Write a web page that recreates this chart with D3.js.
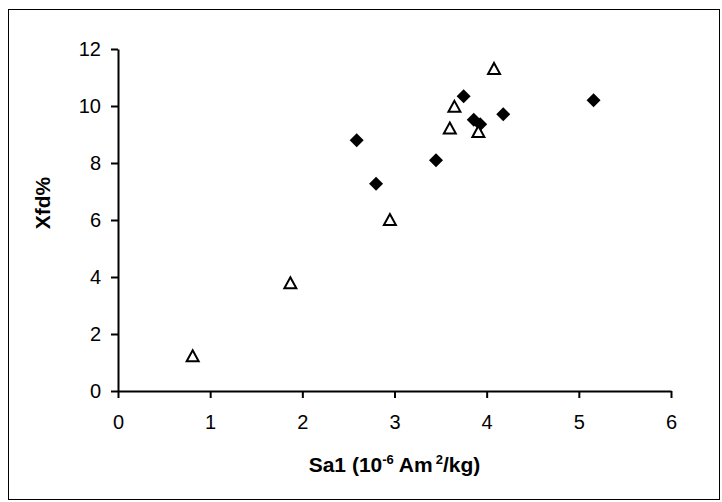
<!DOCTYPE html>
<html>
<head>
<meta charset="utf-8">
<script src="https://cdn.jsdelivr.net/npm/d3@7"></script>
<style>
  html, body { margin: 0; padding: 0; background: #fff; }
  svg { display: block; }
  text { font-family: "Liberation Sans", Arial, sans-serif; fill: #000; }
</style>
</head>
<body>
<svg id="chart" width="722" height="502"></svg>
<script>
// Series 1: filled diamonds
const diamondX = [2.59, 2.80, 3.45, 3.75, 3.86, 3.93, 4.18, 5.16];
const diamondY = [8.80, 7.27, 8.10, 10.34, 9.52, 9.36, 9.71, 10.20];
// Series 2: open triangles
const triangleX = [0.81, 1.87, 2.95, 3.60, 3.65, 3.91, 4.08];
const triangleY = [1.22, 3.78, 6.00, 9.21, 9.97, 9.09, 11.30];
// Axis ticks
const xTicks = [0, 1, 2, 3, 4, 5, 6];
const yTicks = [0, 2, 4, 6, 8, 10, 12];
const xTitle = "Sa1 (10";
const yTitle = "Xfd%";

const svg = d3.select("#chart");
const W = 722, H = 502;

svg.append("rect").attr("x", 0).attr("y", 0).attr("width", W).attr("height", H).attr("fill", "#fff");
svg.append("rect")
  .attr("x", 8.5).attr("y", 9.5).attr("width", 711).attr("height", 490)
  .attr("fill", "none").attr("stroke", "#000").attr("stroke-width", 1);

const x = d3.scaleLinear().domain([0, 6]).range([118, 671]);
const y = d3.scaleLinear().domain([0, 12]).range([391, 49]);

const gx = svg.append("g").attr("transform", `translate(0,${y(0)})`)
  .call(d3.axisBottom(x).tickValues(xTicks).tickFormat(d3.format("d")).tickSize(7).tickSizeOuter(0).tickPadding(17));
const gy = svg.append("g").attr("transform", `translate(${x(0)},0)`)
  .call(d3.axisLeft(y).tickValues(yTicks).tickFormat(d3.format("d")).tickSize(7).tickSizeOuter(0).tickPadding(10));

[gx, gy].forEach(g => {
  g.select(".domain").attr("stroke", "#000").attr("stroke-width", 2);
  g.selectAll(".tick line").attr("stroke", "#000").attr("stroke-width", 2);
  g.selectAll(".tick text").style("font-size", "20px").style("font-family", '"Liberation Sans", Arial, sans-serif').attr("fill", "#000");
});

// Diamonds
const diamonds = diamondX.map((v, i) => [v, diamondY[i]]);
svg.append("g").selectAll("path").data(diamonds).join("path")
  .attr("d", d3.symbol().type(d3.symbolSquare).size(98))
  .attr("transform", d => `translate(${x(d[0])},${y(d[1])}) rotate(45)`)
  .attr("fill", "#000");

// Triangles
const triangles = triangleX.map((v, i) => [v, triangleY[i]]);
const triPath = d3.path();
triPath.moveTo(0, -6); triPath.lineTo(6, 5); triPath.lineTo(-6, 5); triPath.closePath();
svg.append("g").selectAll("path").data(triangles).join("path")
  .attr("d", triPath.toString())
  .attr("transform", d => `translate(${x(d[0])},${y(d[1])})`)
  .attr("fill", "#fff").attr("stroke", "#000").attr("stroke-width", 2).attr("stroke-linejoin", "miter");

// Axis titles
const xt = svg.append("text")
  .attr("x", (x(0) + x(6)) / 2).attr("y", 472)
  .attr("text-anchor", "middle")
  .style("font-size", "21px").style("font-weight", "bold");
xt.append("tspan").text(xTitle);
xt.append("tspan").text("-6").attr("dy", -8).style("font-size", "13px");
xt.append("tspan").text(" Am").attr("dy", 8);
xt.append("tspan").text("2").attr("dy", -8).attr("dx", 3).style("font-size", "13px");
xt.append("tspan").text("/kg)").attr("dy", 8);

svg.append("text")
  .attr("transform", `translate(50,203) rotate(-90)`)
  .attr("text-anchor", "middle")
  .style("font-size", "21px").style("font-weight", "bold")
  .text(yTitle);
</script>
</body>
</html>
